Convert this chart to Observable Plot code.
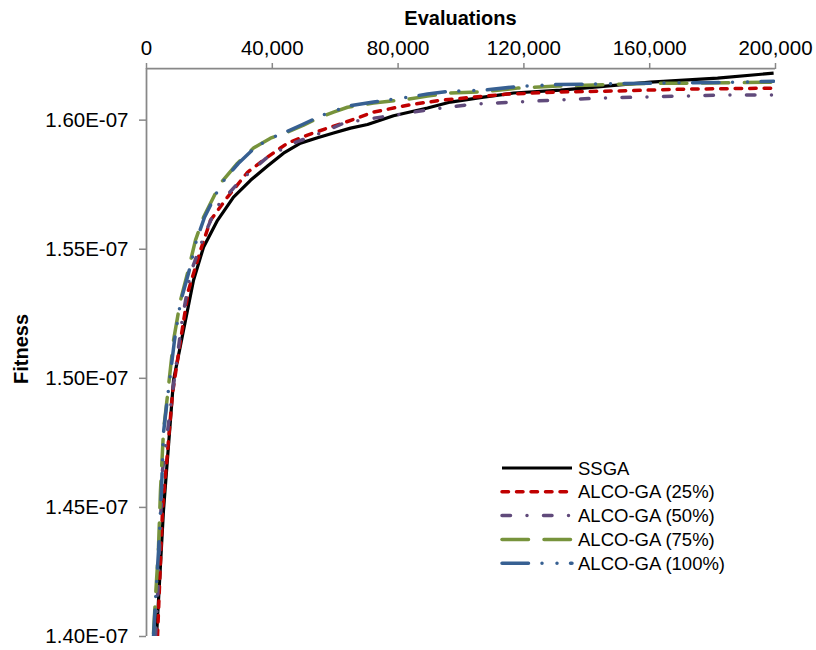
<!DOCTYPE html>
<html>
<head>
<meta charset="utf-8">
<script src="https://cdn.jsdelivr.net/npm/d3@7"></script>
<script src="https://cdn.jsdelivr.net/npm/@observablehq/plot@0.6"></script>
<style>
  body { margin: 0; background: #fff; }
  #wrap { position: relative; width: 816px; height: 650px; font-family: "Liberation Sans", Arial, sans-serif; color: #000; }
  .title { position: absolute; font-weight: bold; font-size: 20px; white-space: nowrap; }
  #legend { position: absolute; left: 0; top: 0; pointer-events: none; }
</style>
</head>
<body>
<div id="wrap"></div>
<script>
// ---- Data (fitness values in units of 1E-07) ----
const xTitle = "Evaluations";
const yTitle = "Fitness";
const xTicks = [0, 40000, 80000, 120000, 160000, 200000];
const yTicks = [1.40, 1.45, 1.50, 1.55, 1.60];
const xDomain = [0, 200000];
const yDomain = [1.40, 1.62];

const seriesNames = ["SSGA", "ALCO-GA (25%)", "ALCO-GA (50%)", "ALCO-GA (75%)", "ALCO-GA (100%)"];

const evalsSSGA = [3180, 5400, 8590, 11770, 14950, 18130, 22580, 27670, 33070, 38480, 43570, 48970, 54380, 59470, 64870, 70280, 78550, 89360, 96670, 107170, 116710, 131650, 138970, 160270, 181580, 199400];
const fitSSGA   = [1.4000, 1.4488, 1.4992, 1.5186, 1.5380, 1.5508, 1.5612, 1.5702, 1.5767, 1.5822, 1.5872, 1.5911, 1.5932, 1.5950, 1.5969, 1.5983, 1.6017, 1.6047, 1.6070, 1.6089, 1.6105, 1.6116, 1.6124, 1.6147, 1.6163, 1.6182];

const evals25 = [3500, 5090, 8270, 10810, 13360, 17170, 20350, 25760, 32120, 38480, 44840, 51200, 57560, 63280, 72190, 83000, 93490, 103990, 114800, 131650, 149780, 170770, 199390];
const fit25   = [1.4000, 1.4488, 1.4942, 1.5147, 1.5341, 1.5496, 1.5612, 1.5702, 1.5798, 1.5857, 1.5911, 1.5942, 1.5969, 1.5992, 1.6031, 1.6058, 1.6077, 1.6089, 1.6101, 1.6109, 1.6113, 1.6120, 1.6124];

const evals50 = [2860, 3500, 5090, 7950, 11450, 13990, 18130, 22260, 29890, 38480, 46750, 55330, 62650, 68050, 78550, 91270, 103990, 116710, 130700, 143420, 156140, 169810, 183490, 199400];
const fit50   = [1.4000, 1.4140, 1.4643, 1.4915, 1.5236, 1.5407, 1.5547, 1.5663, 1.5767, 1.5857, 1.5911, 1.5950, 1.5988, 1.6000, 1.6019, 1.6043, 1.6062, 1.6070, 1.6078, 1.6085, 1.6089, 1.6093, 1.6097, 1.6097];

const evals75 = [2230, 2860, 3820, 4450, 5410, 6680, 8590, 10810, 13040, 15580, 18130, 23530, 28940, 34030, 39430, 44840, 49930, 55330, 59470, 63920, 72190, 83000, 89360, 96670, 107170, 117980, 130700, 147550, 160270, 173950, 187940, 199400];
const fit75   = [1.4012, 1.4151, 1.4345, 1.4566, 1.4798, 1.4934, 1.5147, 1.5302, 1.5407, 1.5535, 1.5624, 1.5756, 1.5833, 1.5892, 1.5930, 1.5954, 1.5981, 1.6012, 1.6031, 1.6050, 1.6066, 1.6081, 1.6093, 1.6105, 1.6110, 1.6124, 1.6132, 1.6138, 1.6143, 1.6143, 1.6145, 1.6147];

const evals100 = [2230, 2860, 3820, 4770, 5410, 6680, 8900, 10810, 13360, 15900, 18450, 23850, 29250, 34350, 39430, 44840, 49930, 55330, 59470, 63920, 72190, 83000, 89360, 96670, 107170, 117980, 130700, 147550, 160270, 173950, 187940, 199400];
const fit100   = [1.4000, 1.4140, 1.4330, 1.4566, 1.4790, 1.4925, 1.5147, 1.5295, 1.5407, 1.5535, 1.5624, 1.5756, 1.5833, 1.5892, 1.5930, 1.5957, 1.5985, 1.6016, 1.6035, 1.6054, 1.6070, 1.6089, 1.6101, 1.6112, 1.6116, 1.6130, 1.6138, 1.6141, 1.6143, 1.6145, 1.6147, 1.6151];

// ---- Styles ----
const colors = ["#000000", "#c00000", "#604a7b", "#77933c", "#376092"];
const dashes = [null, "6.5 8", "8.5 16.5 0 16.5", "26.5 15.5", "26.5 13.5 0 15 0 13.5"];
const caps = ["butt", "round", "round", "round", "round"];
const widths = [3.2, 3.5, 3.5, 3.5, 3.5];

const allX = [evalsSSGA, evals25, evals50, evals75, evals100];
const allY = [fitSSGA, fit25, fit50, fit75, fit100];
const series = seriesNames.map((name, i) => allX[i].map((x, j) => ({name, x, y: allY[i][j]})));

const W = 816, H = 650;
const mL = 146, mR = 41, mT = 68, mB = 14;
const axisColor = "#888888";

const chart = Plot.plot({
  width: W, height: H,
  marginLeft: mL, marginRight: mR, marginTop: mT, marginBottom: mB,
  style: { fontFamily: '"Liberation Sans", Arial, sans-serif', fontSize: "20.5px", color: "#000", background: "#fff", overflow: "visible" },
  x: { domain: xDomain },
  y: { domain: yDomain },
  marks: [
    Plot.ruleY([yDomain[1]], { stroke: axisColor, strokeWidth: 1.75 }),
    Plot.ruleX([xDomain[0]], { stroke: axisColor, strokeWidth: 1.75 }),
    Plot.axisX({ anchor: "top", ticks: xTicks, tickFormat: d3.format(","), tickSize: 6, tickPadding: 8, stroke: axisColor, strokeWidth: 1.5, fill: "#000", label: null }),
    Plot.axisY({ anchor: "left", ticks: yTicks, tickFormat: d => d.toFixed(2) + "E-07", tickSize: 7, tickPadding: 11, stroke: axisColor, strokeWidth: 1.5, fill: "#000", label: null }),
    ...series.map((data, i) => Plot.line(data, {
      x: "x", y: "y", stroke: colors[i], strokeWidth: widths[i],
      strokeDasharray: dashes[i] || undefined, strokeLinecap: caps[i], strokeLinejoin: "round", clip: true
    }))
  ]
});

const wrap = document.getElementById("wrap");
wrap.appendChild(chart);

// Axis titles
const xt = document.createElement("div");
xt.className = "title";
xt.textContent = xTitle;
xt.style.left = (mL + (W - mL - mR) / 2) + "px";
xt.style.top = "7px";
xt.style.transform = "translateX(-50%)";
wrap.appendChild(xt);

const yt = document.createElement("div");
yt.className = "title";
yt.textContent = yTitle;
yt.style.left = "21px";
yt.style.top = "349px";
yt.style.transform = "translate(-50%,-50%) rotate(-90deg)";
wrap.appendChild(yt);

// Legend
const leg = d3.select(wrap).append("svg").attr("id", "legend").attr("width", W).attr("height", H);
const legX0 = 502, legX1 = 572, legTextX = 578, legY0 = 468, legDy = 23.8;
seriesNames.forEach((name, i) => {
  const y = legY0 + i * legDy;
  leg.append("line").attr("x1", legX0).attr("x2", legX1).attr("y1", y).attr("y2", y)
    .attr("stroke", colors[i]).attr("stroke-width", widths[i])
    .attr("stroke-dasharray", dashes[i]).attr("stroke-linecap", caps[i]);
  leg.append("text").attr("x", legTextX).attr("y", y).attr("dy", "0.36em")
    .attr("font-family", '"Liberation Sans", Arial, sans-serif').attr("font-size", 18.5).attr("fill", "#000")
    .text(name);
});
</script>
</body>
</html>
